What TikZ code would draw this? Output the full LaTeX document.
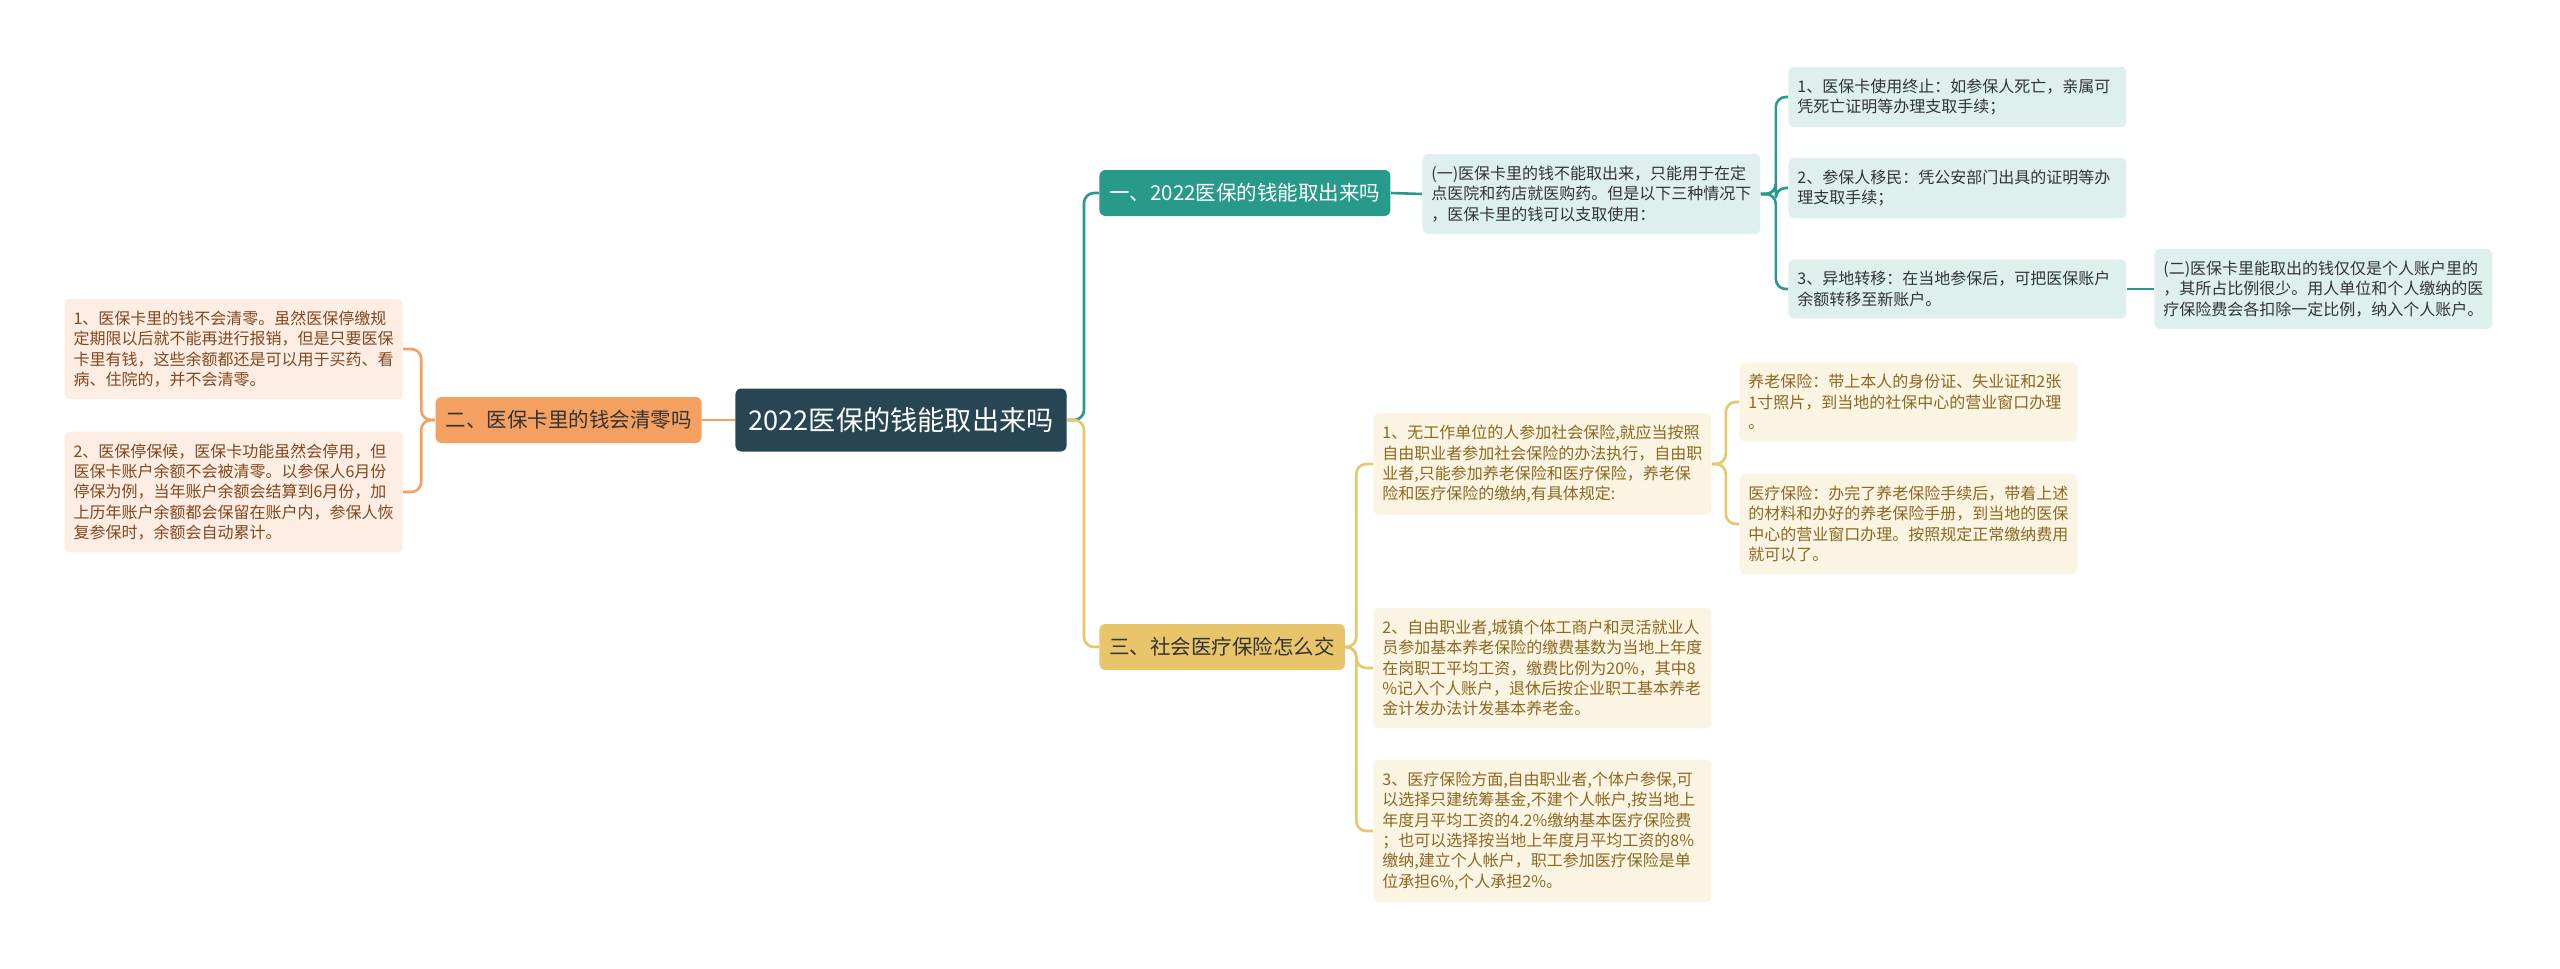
\documentclass[tikz,border=0pt]{standalone}
\usepackage{fontspec}
\setmainfont{Noto Sans CJK SC}

\definecolor{rootfill}{RGB}{39,69,82}
\definecolor{tealmain}{RGB}{40,154,140}
\definecolor{teallight}{RGB}{222,240,237}
\definecolor{orangemain}{RGB}{243,160,97}
\definecolor{orangelight}{RGB}{253,237,226}
\definecolor{orangetext}{RGB}{128,72,32}
\definecolor{yellowmain}{RGB}{232,196,106}
\definecolor{yellowlight}{RGB}{251,244,227}
\definecolor{yellowtext}{RGB}{138,104,32}
\definecolor{darktext}{RGB}{51,51,51}

\begin{document}
\begin{tikzpicture}[x=0.5pt, y=-0.5pt]
    % Styles
    \tikzstyle{rootnode} = [rectangle, fill=rootfill, text=white, rounded corners=3pt,
        inner xsep=6.5pt, minimum height=31.5pt, font=\fontsize{13.6}{16}\selectfont]
    \tikzstyle{branch} = [rectangle, rounded corners=3pt, inner xsep=5pt,
        minimum height=23pt, font=\fontsize{10.25}{12}\selectfont]
    \tikzstyle{leaf} = [rectangle, rounded corners=3pt, inner xsep=4.5pt, inner ysep=6pt,
        text width=160pt, align=left, font=\fontsize{8}{10.2}\selectfont]
    \tikzstyle{tealleaf} = [leaf, fill=teallight, text=darktext]
    \tikzstyle{orangeleaf} = [leaf, fill=orangelight, text=orangetext]
    \tikzstyle{yellowleaf} = [leaf, fill=yellowlight, text=yellowtext]
    \tikzstyle{tealline} = [draw=tealmain, line width=1.3pt, rounded corners=5pt]
    \tikzstyle{orangeline} = [draw=orangemain, line width=1.3pt, rounded corners=5pt]
    \tikzstyle{yellowline} = [draw=yellowmain, line width=1.3pt, rounded corners=5pt]

    \useasboundingbox (0,0) rectangle (2560,969);

    % === CENTRE ===
    \node [rootnode] (root) at (901,420) {2022医保的钱能取出来吗};

    % === LEFT: Orange Branch ===
    \node [branch, fill=orangemain, text=darktext, anchor=east] (orangebranch) at (702,420) {二、医保卡里的钱会清零吗};
    \node [orangeleaf, anchor=east] (oleaf1) at (403,349) {1、医保卡里的钱不会清零。虽然医保停缴规\\定期限以后就不能再进行报销，但是只要医保\\卡里有钱，这些余额都还是可以用于买药、看\\病、住院的，并不会清零。};
    \node [orangeleaf, anchor=east] (oleaf2) at (403,492) {2、医保停保候，医保卡功能虽然会停用，但\\医保卡账户余额不会被清零。以参保人6月份\\停保为例，当年账户余额会结算到6月份，加\\上历年账户余额都会保留在账户内，参保人恢\\复参保时，余额会自动累计。};

    % === RIGHT TOP: Teal Branch ===
    \node [branch, fill=tealmain, text=white, anchor=west] (tealbranch) at (1099,193) {一、2022医保的钱能取出来吗};
    \node [tealleaf, anchor=west] (tealsub) at (1422,194) {(一)医保卡里的钱不能取出来，只能用于在定\\点医院和药店就医购药。但是以下三种情况下\\，医保卡里的钱可以支取使用：};
    \node [tealleaf, anchor=west] (tleaf1) at (1788,97) {1、医保卡使用终止：如参保人死亡，亲属可\\凭死亡证明等办理支取手续；};
    \node [tealleaf, anchor=west] (tleaf2) at (1788,188) {2、参保人移民：凭公安部门出具的证明等办\\理支取手续；};
    \node [tealleaf, anchor=west] (tleaf3) at (1788,289) {3、异地转移：在当地参保后，可把医保账户\\余额转移至新账户。};
    \node [tealleaf, anchor=west] (tealtwo) at (2154,289) {(二)医保卡里能取出的钱仅仅是个人账户里的\\，其所占比例很少。用人单位和个人缴纳的医\\疗保险费会各扣除一定比例，纳入个人账户。};

    % === RIGHT BOTTOM: Yellow Branch ===
    \node [branch, fill=yellowmain, text=darktext, anchor=west] (yellowbranch) at (1099,647) {三、社会医疗保险怎么交};
    \node [yellowleaf, anchor=west] (ysub1) at (1373,464) {1、无工作单位的人参加社会保险,就应当按照\\自由职业者参加社会保险的办法执行，自由职\\业者,只能参加养老保险和医疗保险，养老保\\险和医疗保险的缴纳,有具体规定:};
    \node [yellowleaf, anchor=west] (yleaf1) at (1739,402) {养老保险：带上本人的身份证、失业证和2张\\1寸照片，到当地的社保中心的营业窗口办理\\。};
    \node [yellowleaf, anchor=west] (yleaf2) at (1739,524) {医疗保险：办完了养老保险手续后，带着上述\\的材料和办好的养老保险手册，到当地的医保\\中心的营业窗口办理。按照规定正常缴纳费用\\就可以了。};
    \node [yellowleaf, anchor=west] (ysub2) at (1373,668) {2、自由职业者,城镇个体工商户和灵活就业人\\员参加基本养老保险的缴费基数为当地上年度\\在岗职工平均工资，缴费比例为20\%，其中8\\\%记入个人账户，退休后按企业职工基本养老\\金计发办法计发基本养老金。};
    \node [yellowleaf, anchor=west] (ysub3) at (1373,831) {3、医疗保险方面,自由职业者,个体户参保,可\\以选择只建统筹基金,不建个人帐户,按当地上\\年度月平均工资的4.2\%缴纳基本医疗保险费\\；也可以选择按当地上年度月平均工资的8\%\\缴纳,建立个人帐户，职工参加医疗保险是单\\位承担6\%,个人承担2\%。};

    % === CONNECTORS ===
    \draw [orangeline] (root.west) -- (orangebranch.east);
    \draw [tealline] (root.east) -- ++(17,0) |- (tealbranch.west);
    \draw [yellowline] (root.east) -- ++(17,0) |- (yellowbranch.west);

    \draw [orangeline] (orangebranch.west) -- ++(-14,0) |- (oleaf1.east);
    \draw [orangeline] (orangebranch.west) -- ++(-14,0) |- (oleaf2.east);

    \draw [tealline] (tealbranch.east) -- (tealsub.west);
    \draw [tealline] (tealsub.east) -- ++(15,0) |- (tleaf1.west);
    \draw [tealline] (tealsub.east) -- ++(15,0) |- (tleaf2.west);
    \draw [tealline] (tealsub.east) -- ++(15,0) |- (tleaf3.west);
    \draw [tealline] (tleaf3.east) -- (tealtwo.west);

    \draw [yellowline] (yellowbranch.east) -- ++(11,0) |- (ysub1.west);
    \draw [yellowline] (yellowbranch.east) -- ++(11,0) |- (ysub2.west);
    \draw [yellowline] (yellowbranch.east) -- ++(11,0) |- (ysub3.west);
    \draw [yellowline] (ysub1.east) -- ++(14,0) |- (yleaf1.west);
    \draw [yellowline] (ysub1.east) -- ++(14,0) |- (yleaf2.west);

\end{tikzpicture}
\end{document}
